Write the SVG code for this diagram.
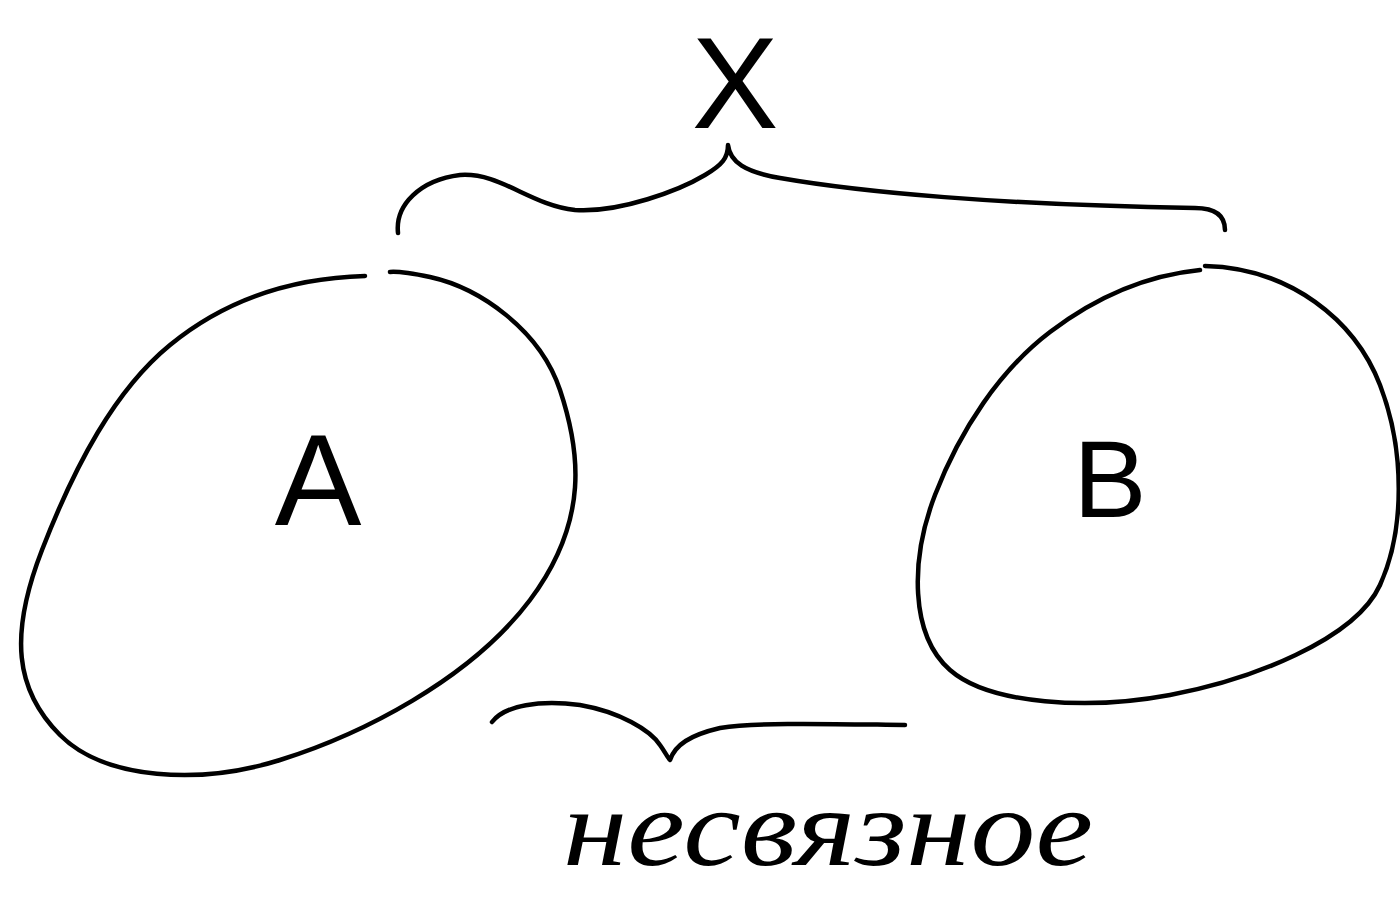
<svg xmlns="http://www.w3.org/2000/svg" width="1400" height="918" viewBox="0 0 1400 918">
<style>
.s{fill:none;stroke:#000;stroke-width:4.5;stroke-linecap:round;stroke-linejoin:round}
.t{font-family:"Liberation Sans","DejaVu Sans",sans-serif;fill:#000;text-anchor:middle}
.h{font-family:"Liberation Serif","DejaVu Serif",serif;font-style:italic;fill:#000}
</style>
<rect width="1400" height="918" fill="#fff"/>
<g id="setA">
<path class="s" d="M365,276 C290,278 225,300 170,345 S75,465 42,550 S15,690 60,735 S200,785 280,760 S470,680 530,600 S580,450 560,390 S480,288 430,277 C415,274 400,271 390,272"/>
<text class="t" x="318" y="525" font-size="130" font-weight="300">A</text>
</g>
<g id="setB">
<path class="s" d="M1205,266 C1290,268 1355,320 1380,385 S1405,530 1380,585 S1250,680 1170,695 S990,705 950,670 S910,560 935,495 S1000,370 1050,332 S1150,275 1200,270"/>
<text class="t" x="1110" y="517" font-size="110" font-weight="300">B</text>
</g>
<g id="setX">
<text class="t" x="735" y="128" font-size="130" font-weight="300">X</text>
</g>
<g id="connectors">
<path id="topBrace" class="s" d="M398,233 C395,205 420,180 460,175 C500,172 530,205 575,210 C620,213 680,190 705,175 C722,165 728,158 728,145 C730,162 745,172 780,178 C860,192 1000,205 1195,208 C1215,208 1225,215 1225,230"/>
<path id="bottomBrace" class="s" d="M492,722 C505,705 540,700 580,705 C620,712 650,730 660,745 C665,752 668,758 670,760 C675,745 690,735 720,728 C760,722 830,724 905,725"/>
</g>
<g id="label">
<text class="h" x="563" y="865" font-size="110" textLength="530" lengthAdjust="spacingAndGlyphs">несвязное</text>
</g>
</svg>
